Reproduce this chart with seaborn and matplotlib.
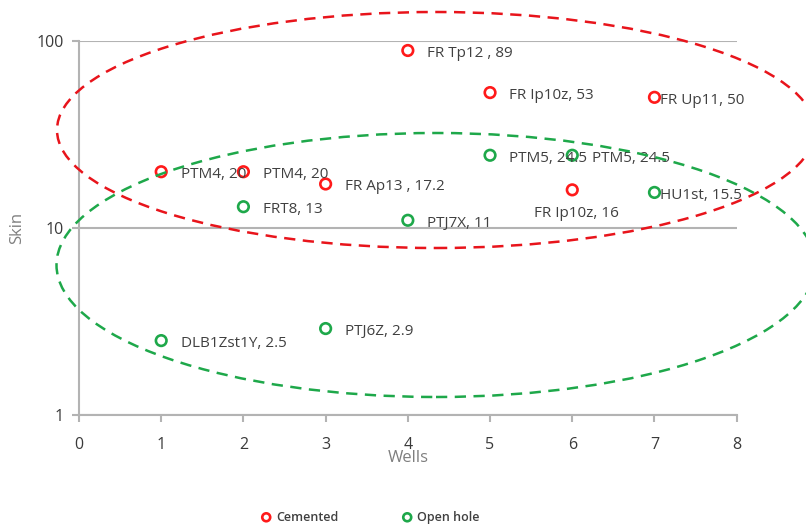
import pandas as pd
import seaborn as sns
import matplotlib.pyplot as plt
from matplotlib.patches import Ellipse
from matplotlib.ticker import FixedLocator, FuncFormatter, NullLocator

sns.set_theme(style="white")
plt.rcParams['font.family'] = ['Open Sans', 'DejaVu Sans']

# data
cemented_wells = [1, 2, 3, 4, 5, 6, 7]
cemented_skin = [20, 20, 17.2, 89, 53, 16, 50]
cemented_names = ["PTM4", "PTM4", "FR Ap13 ", "FR Tp12 ", "FR Ip10z", "FR Ip10z", "FR Up11"]

open_wells = [1, 2, 3, 4, 5, 6, 7]
open_skin = [2.5, 13, 2.9, 11, 24.5, 24.5, 15.5]
open_names = ["DLB1Zst1Y", "FRT8", "PTJ6Z", "PTJ7X", "PTM5", "PTM5", "HU1st"]

red = "#ff1a1a"
green = "#1ea84a"
txt = "#404040"

fig = plt.figure(figsize=(8.06, 5.26), dpi=100)
ax = fig.add_axes([0.098, 0.211, 0.816, 0.711])

cem = pd.DataFrame({"Wells": cemented_wells, "Skin": cemented_skin, "name": cemented_names})
opn = pd.DataFrame({"Wells": open_wells, "Skin": open_skin, "name": open_names})

sns.scatterplot(data=cem, x="Wells", y="Skin", edgecolor=red, facecolor="none",
                s=58, linewidth=1.9, label="Cemented", legend=False, ax=ax, zorder=3)
sns.scatterplot(data=opn, x="Wells", y="Skin", edgecolor=green, facecolor="none",
                s=58, linewidth=1.9, label="Open hole", legend=False, ax=ax, zorder=3)

ax.set_yscale("log")
ax.set_xlim(0, 8)
ax.set_ylim(1, 100)
ax.xaxis.set_major_locator(FixedLocator(range(0, 9)))
ax.yaxis.set_major_locator(FixedLocator([1, 10, 100]))
ax.yaxis.set_minor_locator(NullLocator())
ax.yaxis.set_major_formatter(FuncFormatter(lambda v, p: f"{v:g}"))

ax.yaxis.grid(True, color="#b3b3b3", lw=1.5)
ax.xaxis.grid(False)
for s in ["top", "right"]:
    ax.spines[s].set_visible(False)
for s in ["left", "bottom"]:
    ax.spines[s].set_color("#b3b3b3")
    ax.spines[s].set_linewidth(1.5)

ax.tick_params(bottom=True, left=True, length=5, width=1.5, color="#b3b3b3",
               labelsize=11.5, labelcolor="#3a3a3a")
ax.tick_params(axis="x", pad=11)
ax.tick_params(axis="y", pad=6)
ax.set_xlabel("Wells", fontsize=12, color="#7f7f7f", labelpad=-2)
ax.set_ylabel("Skin", fontsize=12, color="#7f7f7f", labelpad=8)


def lab(df, i):
    return f"{df['name'][i]}, {df['Skin'][i]:g}"


# point labels
for i in range(len(cem)):
    x, y = cem["Wells"][i], cem["Skin"][i]
    if x == 6:
        ax.annotate(lab(cem, i), (x, y), xytext=(3, -17), textcoords="offset points",
                    ha="center", va="center", fontsize=11, color=txt)
    else:
        dx = 4 if x == 7 else 14
        ax.annotate(lab(cem, i), (x, y), xytext=(dx, -2), textcoords="offset points",
                    ha="left", va="center", fontsize=11, color=txt)
for i in range(len(opn)):
    x, y = opn["Wells"][i], opn["Skin"][i]
    dx = 4 if x == 7 else 14
    ax.annotate(lab(opn, i), (x, y), xytext=(dx, -2), textcoords="offset points",
                ha="left", va="center", fontsize=11, color=txt)

# dashed grouping ellipses (figure pixels)
W, H = 806, 526
for cx, cy, w, h, c in [(436, 130, 758, 236, "#e8141b"), (436, 265, 759, 264, green)]:
    e = Ellipse((cx / W, 1 - cy / H), w / W, h / H, transform=fig.transFigure,
                fill=False, ec=c, lw=1.8, ls=(0, (4.5, 3)), clip_on=False, zorder=5)
    fig.add_artist(e)

handles, labels = ax.get_legend_handles_labels()
fig.legend(handles, labels, loc="center", bbox_to_anchor=(0.455, 0.017), ncol=2,
           frameon=False, fontsize=9, markerscale=0.75, handletextpad=-0.2,
           columnspacing=4.5, labelcolor=txt, prop={"weight": "semibold", "size": 9})

fig.savefig("out.png", dpi=100)
